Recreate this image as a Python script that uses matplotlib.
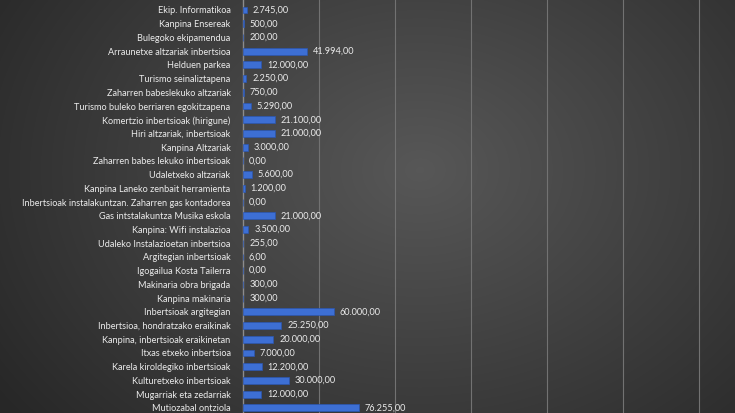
import numpy as np
import matplotlib
matplotlib.use("Agg")
import matplotlib.pyplot as plt

# chart data, top to bottom
labels = [
    "Ekip. Informatikoa",
    "Kanpina Ensereak",
    "Bulegoko ekipamendua",
    "Arraunetxe altzariak inbertsioa",
    "Helduen parkea",
    "Turismo seinaliztapena",
    "Zaharren babeslekuko altzariak",
    "Turismo buleko berriaren egokitzapena",
    "Komertzio inbertsioak (hirigune)",
    "Hiri altzariak, inbertsioak",
    "Kanpina Altzariak",
    "Zaharren babes lekuko inbertsioak",
    "Udaletxeko altzariak",
    "Kanpina Laneko zenbait herramienta",
    "Inbertsioak instalakuntzan. Zaharren gas kontadorea",
    "Gas intstalakuntza Musika eskola",
    "Kanpina: Wifi instalazioa",
    "Udaleko Instalazioetan inbertsioa",
    "Argitegian inbertsioak",
    "Igogailua Kosta Tailerra",
    "Makinaria obra brigada",
    "Kanpina makinaria",
    "Inbertsioak argitegian",
    "Inbertsioa, hondratzako eraikinak",
    "Kanpina, inbertsioak eraikinetan",
    "Itxas etxeko inbertsioa",
    "Karela kiroldegiko inbertsioak",
    "Kulturetxeko inbertsioak",
    "Mugarriak eta zedarriak",
    "Mutiozabal ontziola",
]
values = [2745, 500, 200, 41994, 12000, 2250, 750, 5290, 21100, 21000,
          3000, 0, 5600, 1200, 0, 21000, 3500, 255, 6, 0,
          300, 300, 60000, 25250, 20000, 7000, 12200, 30000, 12000, 76255]
gridlines = [50000, 100000, 150000, 200000, 250000, 300000]


def eu(v):
    s = f"{v:,.2f}"
    return s.replace(",", "X").replace(".", ",").replace("X", ".")


plt.rcParams['font.family'] = ['Lato', 'DejaVu Sans']
W, H = 735, 413
fig = plt.figure(figsize=(W / 100, H / 100), dpi=100)

# radial gray background
bg = fig.add_axes([0, 0, 1, 1])
yy, xx = np.mgrid[0:H, 0:W]
d = np.sqrt((xx - 420) ** 2 + ((yy - 170) * 1.3) ** 2)
shade = np.clip(88 - 40 * d / 430, 40, 90) / 255
bg.imshow(shade, cmap='gray', vmin=0, vmax=1, aspect='auto')
bg.axis('off')

x0 = 243 / W
ax = fig.add_axes([x0, 0, 1 - x0, 1])
ax.patch.set_alpha(0)
pos = np.arange(len(labels))
ax.barh(pos, values, height=0.5, color='#3d6fd4', edgecolor='#2b56b0', linewidth=0.5, zorder=3)
for p, v in zip(pos, values):
    ax.text(v + 3800, p, eu(v), va='center', ha='left', color='#ececec', fontsize=6.6)

ax.set_yticks(pos)
ax.set_yticklabels(labels, color='#ececec', fontsize=6.6)
ax.tick_params(axis='y', length=0, pad=9)
ax.set_xticks(gridlines)
ax.tick_params(axis='x', bottom=False, labelbottom=False)
ax.grid(axis='x', color='#727272', linewidth=0.8, zorder=0)
ax.set_xlim(0, (W - 243) / 76 * 50000)
ax.set_ylim((H - 10) / 13.72, -10 / 13.72)
for s in ['top', 'right', 'bottom']:
    ax.spines[s].set_visible(False)
ax.spines['left'].set_color('#8c8c8c')
ax.spines['left'].set_linewidth(1)

fig.savefig("out.png", dpi=100)
